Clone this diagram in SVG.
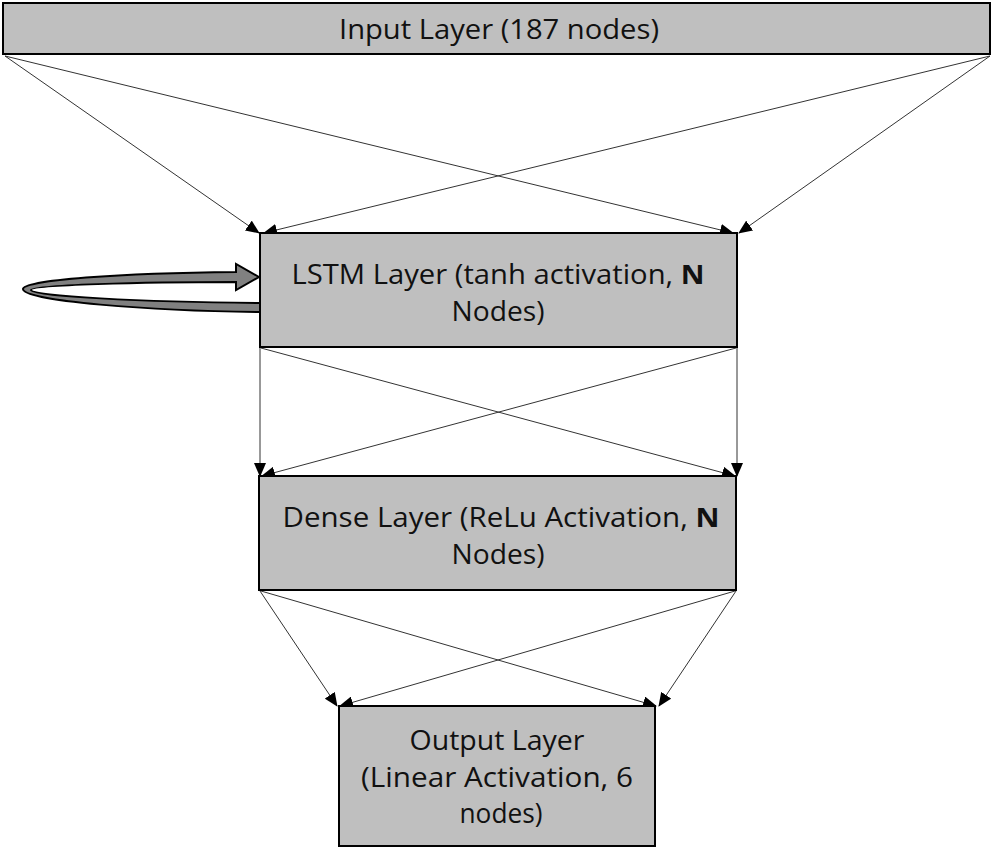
<svg xmlns="http://www.w3.org/2000/svg" width="995" height="847" viewBox="0 0 995 847">
<style>
.box{fill:#bfbfbf;stroke:#000;stroke-width:2}
.lbl{font-family:"Open Sans","Liberation Sans",Arial,sans-serif;font-size:27px;fill:#111;text-anchor:middle}
.c{stroke:#333;stroke-width:1;fill:none;marker-end:url(#ah)}
</style>
<defs>
<marker id="ah" markerUnits="userSpaceOnUse" markerWidth="14" markerHeight="12" refX="13" refY="6" orient="auto">
<path d="M0,0 L14,6 L0,12 Z" fill="#000"/>
</marker>
</defs>
<rect width="995" height="847" fill="#fff"/>
<g id="connectors">
<line class="c" x1="5" y1="56" x2="259" y2="233"/>
<line class="c" x1="5" y1="56" x2="733" y2="233"/>
<line class="c" x1="990" y1="56" x2="264" y2="233"/>
<line class="c" x1="990" y1="56" x2="739" y2="233"/>
<line class="c" x1="260" y1="348" x2="260" y2="476"/>
<line class="c" x1="261" y1="348" x2="735" y2="476"/>
<line class="c" x1="737" y1="348" x2="737" y2="476"/>
<line class="c" x1="736" y1="348" x2="262" y2="476"/>
<line class="c" x1="260" y1="591" x2="337" y2="706"/>
<line class="c" x1="261" y1="591" x2="656" y2="706"/>
<line class="c" x1="735" y1="591" x2="340" y2="706"/>
<line class="c" x1="736" y1="591" x2="659" y2="706"/>
<path id="loop" d="M259,277 L236,264 L236,272 C120,273 23,280 23,289 C23,301 150,311 260,312 L260,303 C140,302 31,296 31,290 C31,285 140,282 236,282 L236,290 Z" fill="#808080" stroke="#000" stroke-width="2" stroke-linejoin="miter"/>
</g>
<g id="input">
<rect class="box" x="3" y="3" width="987" height="51"/>
<text class="lbl" x="499" y="39" textLength="320" lengthAdjust="spacingAndGlyphs" style="font-size:28px">Input Layer (187 nodes)</text>
</g>
<g id="lstm">
<rect class="box" x="260" y="233" width="477" height="114"/>
<text class="lbl" x="498" y="284" textLength="413" lengthAdjust="spacingAndGlyphs">LSTM Layer (tanh activation, <tspan font-weight="bold">N</tspan></text>
<text class="lbl" x="498" y="321" textLength="93" lengthAdjust="spacingAndGlyphs">Nodes)</text>
</g>
<g id="dense">
<rect class="box" x="259" y="476" width="477" height="114"/>
<text class="lbl" x="501" y="527" textLength="437" lengthAdjust="spacingAndGlyphs">Dense Layer (ReLu Activation, <tspan font-weight="bold">N</tspan></text>
<text class="lbl" x="498" y="564" textLength="93" lengthAdjust="spacingAndGlyphs">Nodes)</text>
</g>
<g id="output">
<rect class="box" x="339" y="706" width="316" height="140"/>
<text class="lbl" x="497" y="750" textLength="175" lengthAdjust="spacingAndGlyphs">Output Layer</text>
<text class="lbl" x="497" y="787" textLength="272" lengthAdjust="spacingAndGlyphs">(Linear Activation, 6</text>
<text class="lbl" x="501" y="823" textLength="83" lengthAdjust="spacingAndGlyphs">nodes)</text>
</g>
</svg>
